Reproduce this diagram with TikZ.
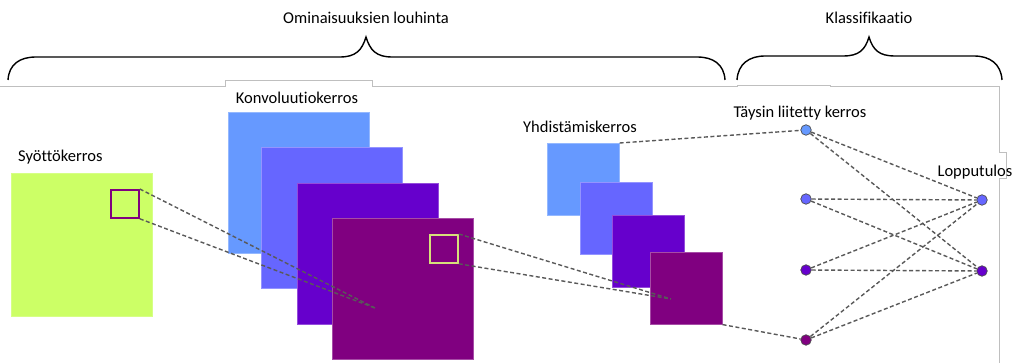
\documentclass[tikz,border=0pt]{standalone}
\usepackage{fontspec}
\setmainfont{Carlito}[RawFeature={-liga}]
\begin{document}
\begin{tikzpicture}[x=1pt,y=-1pt,
  lbl/.style={font=\fontsize{16.5}{18}\selectfont, inner sep=0pt},
  sq/.style={draw=#1!70!white, fill=#1, line width=0.6pt, minimum width=141pt, minimum height=141pt, inner sep=0pt, anchor=north west},
  psq/.style={draw=#1!70!white, fill=#1, line width=0.6pt, minimum width=72pt, minimum height=72pt, inner sep=0pt, anchor=north west},
  unit/.style={circle, draw=black!70, line width=0.7pt, fill=#1, minimum size=10.5pt, inner sep=0pt},
  link/.style={draw=black!65, line width=1.4pt, dash pattern=on 4pt off 2.5pt},
  brace/.style={draw=black, line width=1.4pt},
  frame/.style={draw=black!25, line width=0.8pt}
]
\definecolor{cgreen}{HTML}{CCFF66}
\definecolor{cblue}{HTML}{6699FF}
\definecolor{cviolet}{HTML}{6666FF}
\definecolor{cindigo}{HTML}{6600CC}
\definecolor{cplum}{HTML}{800080}
\definecolor{cpale}{HTML}{D6E07A}
\useasboundingbox (0,0) rectangle (1017,363);

% frame lines
\draw[frame] (0,86.5) -- (225,86.5) -- (225,80) -- (372,80) -- (372,86) -- (737,86) -- (737,85) -- (830,85) -- (830,86) -- (999,86) -- (999,152) -- (1006,152) -- (1006,178) -- (999,178) -- (999,363);

% braces
\draw[brace] (8,80) .. controls (9,64) and (20,57) .. (36,57) -- (340,57)
  .. controls (356,57) and (362,50) .. (366,37)
  .. controls (370,50) and (376,57) .. (392,57) -- (697,57)
  .. controls (713,57) and (724,64) .. (725,80);
\draw[brace] (737,80) .. controls (738,64) and (749,56) .. (765,56) -- (843,56)
  .. controls (859,56) and (865,50) .. (869,37)
  .. controls (873,50) and (879,56) .. (895,56) -- (974,56)
  .. controls (990,56) and (1001,64) .. (1002,80);
\node[lbl] (tfeat) at (366,18) {Ominaisuuksien louhinta};
\node[lbl] (tclass) at (869,18) {Klassifikaatio};

% input layer
\node[lbl, anchor=west] (tin) at (18,157) {Syöttökerros};
\node[draw=cgreen!80!white, fill=cgreen, line width=0.6pt, minimum width=141pt, minimum height=143pt, inner sep=0pt, anchor=north west] (inp) at (11,173) {};
\node[draw=cplum, line width=1.8pt, minimum size=28pt, inner sep=0pt, anchor=north west] (win) at (110,189) {};

% convolution layer
\node[lbl] (tconv) at (297,98) {Konvoluutiokerros};
\node[sq=cblue] (c1) at (228,112) {};
\node[sq=cviolet] (c2) at (261,147) {};
\node[sq=cindigo] (c3) at (297,183) {};
\node[sq=cplum] (c4) at (332,218) {};
\node[draw=cpale, line width=1.8pt, minimum size=28pt, inner sep=0pt, anchor=north west] (wconv) at (429,234) {};
\coordinate (cpt) at (375,308);

% pooling layer
\node[lbl] (tpool) at (580,127) {Yhdistämiskerros};
\node[psq=cblue] (p1) at (547,143) {};
\node[psq=cviolet] (p2) at (580,182) {};
\node[psq=cindigo] (p3) at (612,215) {};
\node[psq=cplum] (p4) at (650,252) {};
\coordinate (ppt) at (671,299);

% receptive field links
\draw[link] (win.north east) -- (cpt);
\draw[link] (win.south east) -- (cpt);
\draw[link] (wconv.north east) -- (ppt);
\draw[link] (wconv.south east) -- (ppt);

% fully connected layer
\node[lbl] (tfc) at (800,113) {Täysin liitetty kerros};
\node[unit=cblue] (f1) at (806,130) {};
\node[unit=cviolet] (f2) at (806,199) {};
\node[unit=cindigo] (f3) at (806,270) {};
\node[unit=cplum] (f4) at (806,340) {};

% output layer
\node[lbl] (tout) at (975,172) {Lopputulos};
\node[unit=cviolet] (o1) at (982,200) {};
\node[unit=cindigo] (o2) at (982,271) {};

\draw[link] (p1.north east) -- (f1);
\draw[link] (p4.south east) -- (f4);
\foreach \f in {f1,f2,f3,f4}{
  \foreach \o in {o1,o2}{
    \draw[link] (\f) -- (\o);
  }
}
\end{tikzpicture}
\end{document}
